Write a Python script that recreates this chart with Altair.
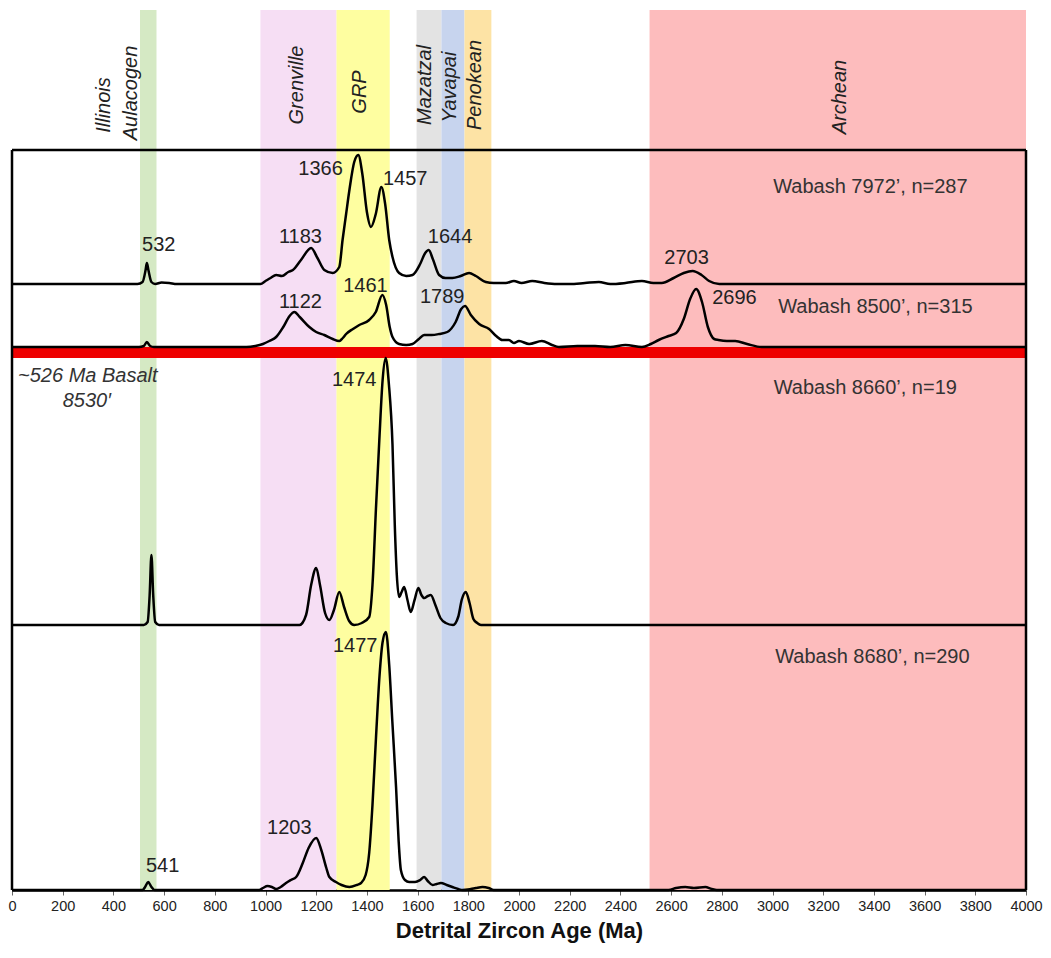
import altair as alt
import pandas as pd

FONT = "Liberation Sans"

# ---- tectonic province bands (Ma) ----
band_names = ["Illinois Aulacogen", "Grenville", "GRP", "Mazatzal", "Yavapai", "Penokean", "Archean"]
band_start = [505, 980, 1280, 1596, 1694, 1785, 2515]
band_end = [570, 1280, 1490, 1694, 1785, 1891, 4000]
band_colors = ["#d5e9c4", "#f6def4", "#fefea0", "#e3e3e3", "#c7d4ee", "#fde3a5", "#fdbcbd"]

# band label text, age position, vertical position (offset units)
blab_text = ["Illinois", "Aulacogen", "Grenville", "GRP", "Mazatzal", "Yavapai", "Penokean", "Archean"]
blab_age = [362, 468, 1126, 1374, 1630, 1728, 1827, 3268]
blab_y = [785, 797, 805, 798, 805, 803, 805, 793]

# ---- probability density curves: (age Ma, relative height) ----
samples = ["7972", "8500", "8660", "8680"]
baseline = {"7972": 606, "8500": 543, "8660": 265, "8680": 0}

age_7972 = [0, 495, 515, 527, 532, 538, 550, 565, 590, 620, 650, 980, 1000, 1020, 1042, 1065, 1090, 1108,
            1140, 1180, 1205, 1232, 1265, 1291, 1304, 1318, 1331, 1350, 1366, 1382, 1400, 1416, 1435, 1457,
            1472, 1488, 1501, 1527, 1555, 1580, 1610, 1630, 1644, 1660, 1685, 1710, 1737, 1770, 1803, 1830,
            1869, 1900, 1948, 1980, 2010, 2052, 2100, 2150, 2200, 2260, 2315, 2360, 2420, 2485, 2530, 2563,
            2610, 2650, 2685, 2720, 2750, 2790, 4000]
h_7972 = [0, 0, 2, 14, 21, 14, 2, 0, 1.5, 1, 0, 0, 3, 6, 9, 8, 12, 14,
          24, 36, 26, 14, 11, 17, 44, 70, 94, 122, 129, 110, 72, 57, 70, 97,
          80, 44, 27, 11, 8, 9, 20, 31, 34, 25, 9, 6, 6, 8, 11, 8,
          2, 1, 1, 3, 1, 3, 1, 0, 0, 1, 2, 0, 1, 3, 1, 1,
          6, 11, 13, 9, 3, 0, 0]

age_8500 = [0, 500, 520, 532, 545, 560, 925, 960, 990, 1015, 1042, 1070, 1095, 1114, 1135, 1173, 1200,
            1232, 1265, 1291, 1305, 1318, 1345, 1370, 1409, 1435, 1461, 1476, 1490, 1501, 1527, 1555, 1580,
            1605, 1626, 1655, 1685, 1717, 1750, 1772, 1787, 1810, 1843, 1882, 1910, 1934, 1960, 1980, 2000,
            2040, 2090, 2130, 2157, 2230, 2300, 2360, 2420, 2485, 2520, 2551, 2590, 2620, 2650, 2675, 2699,
            2722, 2745, 2770, 2787, 2820, 2853, 2900, 2957, 4000]
h_8500 = [0, 0, 1, 5, 1, 0, 0, 1, 3, 6, 10, 20, 31, 35, 30, 20, 15,
          12, 8, 6, 9, 13, 18, 22, 27, 35, 52, 42, 20, 10, 3, 2, 3,
          8, 12, 12, 13, 15, 25, 38, 41, 32, 23, 18, 11, 7, 7, 4, 6,
          3, 6, 2, 0, 1, 1, 0, 2, 0, 3, 7, 11, 14, 28, 48, 58,
          45, 20, 8, 7, 6, 6, 3, 0, 0]

age_8660 = [0, 520, 535, 543, 550, 557, 565, 580, 1134, 1160, 1180, 1200, 1215, 1235, 1252, 1270, 1291,
            1310, 1330, 1350, 1380, 1409, 1422, 1436, 1449, 1462, 1474, 1487, 1501, 1510, 1518, 1527, 1537,
            1547, 1560, 1573, 1588, 1603, 1615, 1626, 1640, 1652, 1670, 1690, 1711, 1740, 1760, 1775, 1790,
            1805, 1820, 1835, 1850, 4000]
h_8660 = [0, 0, 3, 30, 70, 30, 3, 0, 0, 10, 40, 57, 40, 12, 5, 15, 33,
          18, 4, 0, 2, 8, 40, 118, 185, 245, 267, 240, 180, 100, 50, 28, 33,
          38, 25, 13, 25, 37, 30, 27, 29, 30, 20, 7, 2, 0, 8, 26, 33,
          22, 6, 2, 0, 0]

age_8680 = [0, 515, 525, 537, 550, 562, 975, 990, 1008, 1025, 1042, 1060, 1081, 1100, 1121, 1147, 1170,
            1200, 1220, 1240, 1252, 1278, 1300, 1331, 1360, 1377, 1395, 1409, 1422, 1436, 1450, 1462, 1475,
            1488, 1500, 1515, 1525, 1534, 1550, 1567, 1590, 1610, 1626, 1640, 1659, 1675, 1692, 1715, 1737,
            1760, 1777, 1810, 1830, 1856, 1880, 1900, 2590, 2620, 2656, 2690, 2735, 2760, 2780, 4000]
h_8680 = [0, 0, 3, 8, 3, 0, 0, 2, 4, 3, 1, 3, 7, 10, 13, 27, 42,
          52, 40, 22, 13, 8, 5, 3, 5, 7, 15, 37, 85, 153, 215, 248, 258,
          225, 170, 103, 50, 20, 10, 8, 8, 10, 13, 9, 5, 6, 7, 5, 3,
          1, 0, 1, 2, 3, 2, 0, 0, 2, 3, 2, 3, 1, 0, 0]

curve_ages = {"7972": age_7972, "8500": age_8500, "8660": age_8660, "8680": age_8680}
curve_h = {"7972": h_7972, "8500": h_8500, "8660": h_8660, "8680": h_8680}

# peak labels: text, age, vertical position
peak_text = ["532", "1183", "1366", "1457", "1644", "2703", "1122", "1461", "1789", "2696",
             "1474", "1477", "1203", "541"]
peak_age = [579, 1138, 1217, 1551, 1728, 2661, 1138, 1394, 1697, 2850, 1350, 1354, 1094, 594]
peak_y = [645, 653, 721, 711, 653, 632, 588, 604, 593, 592, 510, 244, 62, 24]

# sample labels
sample_text = ["Wabash 7972\u2019, n=287", "Wabash 8500\u2019, n=315", "Wabash 8660\u2019, n=19",
               "Wabash 8680\u2019, n=290"]
sample_age = [3386, 3406, 3366, 3394]
sample_y = [703, 583, 502, 233]

basalt_text = ["~526 Ma Basalt", "8530\u2032"]
basalt_age = [299, 295]
basalt_y = [514, 489]

# frame and red basalt marker
frame_top = 740
red_lo, red_hi = 532, 543

# ---------------- build tables ----------------
rows = []
for s in samples:
    for a, h in zip(curve_ages[s], curve_h[s]):
        rows.append({"sample": s, "age": a, "y": baseline[s] + h})
curves = pd.DataFrame(rows)

bands = pd.DataFrame({"name": band_names, "start": band_start, "end": band_end, "color": band_colors})
blabels = pd.DataFrame({"text": blab_text, "age": blab_age, "y": blab_y})
peaks = pd.DataFrame({"text": peak_text, "age": peak_age, "y": peak_y})
slabels = pd.DataFrame({"text": sample_text, "age": sample_age, "y": sample_y})
basalt = pd.DataFrame({"text": basalt_text, "age": basalt_age, "y": basalt_y})

xscale = alt.Scale(domain=[0, 4000], nice=False, zero=False)
yscale = alt.Scale(domain=[0, 880], nice=False, zero=False)

xaxis = alt.Axis(
    values=list(range(0, 4001, 50)),
    labelExpr="datum.value % 200 == 0 ? datum.label : ''",
    format="d",
    labelOverlap=False,
    labelFlush=False,
    labelFont=FONT,
    labelFontSize=14.5,
    labelColor="#222222",
    labelPadding=4,
    tickSize=5,
    tickColor="#666666",
    tickWidth=1,
    domainColor="#000000",
    domainWidth=2.5,
    grid=False,
    title="Detrital Zircon Age (Ma)",
    titleFont=FONT,
    titleFontSize=22,
    titleFontWeight="bold",
    titleColor="#111111",
    titlePadding=8,
)

band_layer = alt.Chart(bands).mark_rect().encode(
    x=alt.X("start:Q", scale=xscale, axis=xaxis),
    x2="end:Q",
    color=alt.Color("name:N", scale=alt.Scale(domain=band_names, range=band_colors), legend=None),
)

band_text = alt.Chart(blabels).mark_text(
    angle=270, font=FONT, fontSize=20, fontStyle="italic", color="#222222", baseline="middle", align="center"
).encode(
    x=alt.X("age:Q", scale=xscale),
    y=alt.Y("y:Q", scale=yscale, axis=None),
    text="text:N",
)

red_layer = alt.Chart(pd.DataFrame({"x0": [0], "x1": [4000], "lo": [red_lo], "hi": [red_hi]})).mark_rect(
    color="#ee0000"
).encode(
    x=alt.X("x0:Q", scale=xscale),
    x2="x1:Q",
    y=alt.Y("lo:Q", scale=yscale, axis=None),
    y2="hi:Q",
)

frame_top_rule = alt.Chart(pd.DataFrame({"x0": [0], "x1": [4000], "y": [frame_top]})).mark_rule(
    color="#000000", strokeWidth=2.5
).encode(
    x=alt.X("x0:Q", scale=xscale),
    x2="x1:Q",
    y=alt.Y("y:Q", scale=yscale, axis=None),
)

frame_sides = alt.Chart(pd.DataFrame({"x": [0, 4000], "y0": [0, 0], "y1": [frame_top, frame_top]})).mark_rule(
    color="#000000", strokeWidth=2.5
).encode(
    x=alt.X("x:Q", scale=xscale),
    y=alt.Y("y0:Q", scale=yscale, axis=None),
    y2="y1:Q",
)

curve_layer = alt.Chart(curves).mark_line(
    color="#000000", strokeWidth=2.5, interpolate="monotone"
).encode(
    x=alt.X("age:Q", scale=xscale),
    y=alt.Y("y:Q", scale=yscale, axis=None),
    detail="sample:N",
    order="age:Q",
)

peak_layer = alt.Chart(peaks).mark_text(
    font=FONT, fontSize=20, color="#222222", baseline="middle", align="center"
).encode(
    x=alt.X("age:Q", scale=xscale),
    y=alt.Y("y:Q", scale=yscale, axis=None),
    text="text:N",
)

sample_layer = alt.Chart(slabels).mark_text(
    font=FONT, fontSize=20, color="#333333", baseline="middle", align="center"
).encode(
    x=alt.X("age:Q", scale=xscale),
    y=alt.Y("y:Q", scale=yscale, axis=None),
    text="text:N",
)

basalt_layer = alt.Chart(basalt).mark_text(
    font=FONT, fontSize=20, fontStyle="italic", color="#333333", baseline="middle", align="center"
).encode(
    x=alt.X("age:Q", scale=xscale),
    y=alt.Y("y:Q", scale=yscale, axis=None),
    text="text:N",
)

chart = alt.layer(
    band_layer, band_text, red_layer, frame_top_rule, frame_sides, curve_layer,
    peak_layer, sample_layer, basalt_layer
).properties(
    width=1014, height=880,
    padding={"left": 4, "top": 2, "right": 17, "bottom": 54},
    autosize=alt.AutoSizeParams(type="none"),
    background="#ffffff",
).configure_view(stroke=None)

chart.save("out.html", embed_options={"renderer": "svg", "actions": False})
